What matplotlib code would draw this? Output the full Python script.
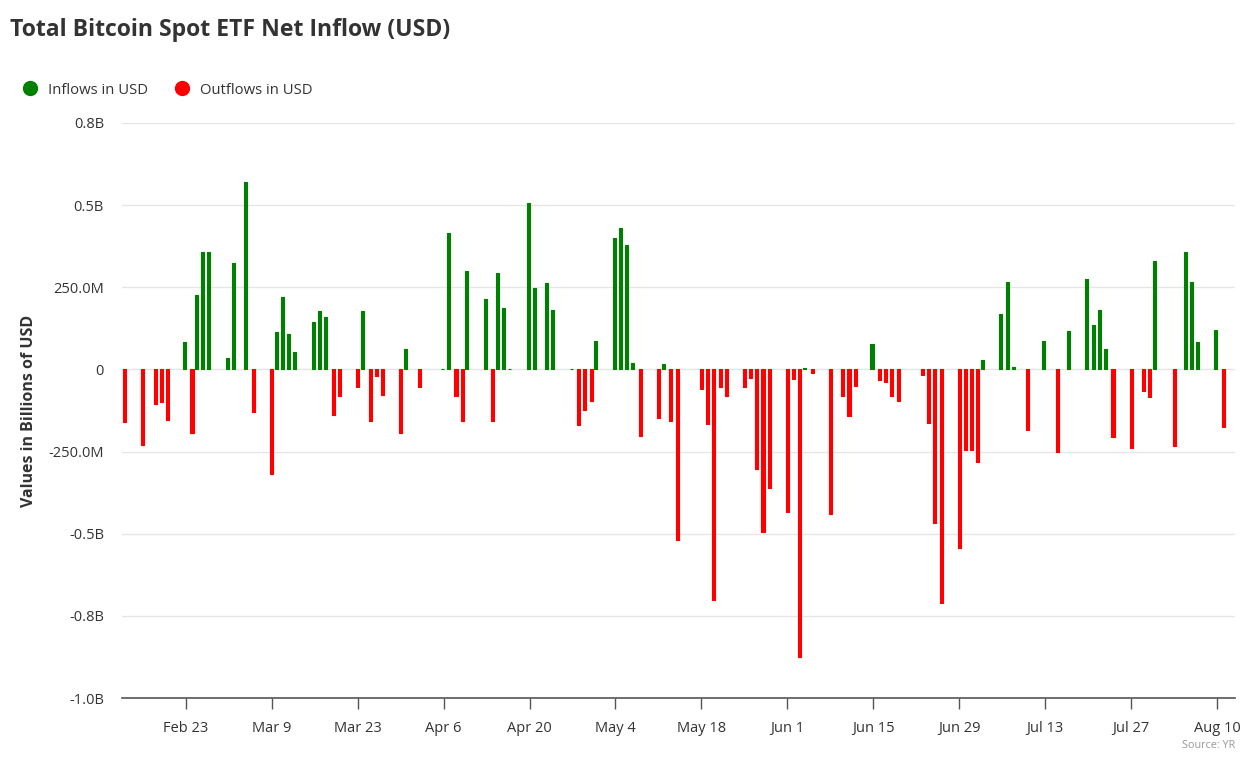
import numpy as np
import pandas as pd
import matplotlib
matplotlib.use('Agg')
import matplotlib.pyplot as plt
import matplotlib.dates as mdates
from matplotlib.lines import Line2D

plt.rcParams['font.family'] = ['Open Sans', 'DejaVu Sans']

# 영업일 기준 일별 순유입 (백만 달러), 주 단위로 묶음 (월~금)
first_day = '2026-02-13'
last_day = '2026-08-11'
weeks = [
    [-160],
    [-229, 0, -104, -99, -153],
    [84, -193, 226, 357, 357],
    [34, 323, 0, 570, -130],
    [-318, 114, 221, 107, 54],
    [145, 179, 161, -138, -81],
    [-55, 179, -157, -20, -77],
    [-195, 62, 0, -55, 0],
    [2, 414, -81, -157, 301],
    [213, -157, 292, 186, 2],
    [505, 247, 0, 262, 182],
    [2, -168, -122, -96, 88],
    [399, 429, 379, 19, -202],
    [-149, 15, -156, -520, 0],
    [-61, -166, -703, -54, -80],
    [-53, -26, -304, -495, -361],
    [-433, -30, -874, 3, -10],
    [-441, 0, -80, -141, -50],
    [77, -33, -38, -81, -97],
    [0, -17, -162, -466, -710],
    [-543, -246, -246, -283, 30],
    [168, 265, 7, 0, -185],
    [87, 0, -251, 0, 118],
    [276, 134, 182, 62, -205],
    [-240, 0, -65, -84, 330],
    [-232, 0, 357, 266, 84],
    [121, -175],
]
flows = np.array([v for w in weeks for v in w])
days = pd.bdate_range(first_day, last_day)

y_ticks = [750, 500, 250, 0, -250, -500, -750, -1000]
y_labels = ['0.8B', '0.5B', '250.0M', '0', '-250.0M', '-0.5B', '-0.8B', '-1.0B']
x_ticks = pd.date_range('2026-02-23', '2026-08-10', freq='14D')

x = mdates.date2num(days)
pos = flows > 0
neg = flows < 0

W, H = 1255, 767
fig = plt.figure(figsize=(W / 100, H / 100), dpi=100)
ax = fig.add_axes([122 / W, (H - 698) / H, (1235 - 122) / W, (698 - 123) / H])

# 둥근 모서리 느낌을 위해 같은 색 테두리 + round join
ax.bar(x[pos] - 0.22, flows[pos], width=0.5, color='#008000', edgecolor='#008000',
       linewidth=0.8, joinstyle='round', zorder=3)
ax.bar(x[neg] + 0.03, flows[neg], width=0.5, color='#ff0000', edgecolor='#ff0000',
       linewidth=0.8, joinstyle='round', zorder=3)

x0 = mdates.date2num(x_ticks[0])
ax.set_xlim(x0 - 10.37, x0 + 170.9)
ax.set_ylim(-1000, 750)

ax.set_yticks(y_ticks)
ax.set_yticklabels(y_labels)
ax.set_xticks(mdates.date2num(x_ticks))
ax.set_xticklabels([d.strftime('%b ') + str(d.day) for d in x_ticks])

ax.grid(axis='y', color='#e6e6e6', linewidth=1, zorder=0)
for s in ['left', 'right', 'top']:
    ax.spines[s].set_visible(False)
ax.spines['bottom'].set_color('#555555')
ax.spines['bottom'].set_linewidth(1.2)
ax.tick_params(axis='y', length=0, pad=13, labelsize=10.5, labelcolor='#333333')
ax.tick_params(axis='x', length=8, width=1, color='#555555', pad=8.5,
               labelsize=10.5, labelcolor='#333333')

ax.set_ylabel('Values in Billions of USD', fontsize=11.5, fontweight='bold',
              color='#333333')
ax.yaxis.set_label_coords(-(122 - 37) / (1235 - 122), 0.5)

fig.text(10 / W, 1 - 30 / H, 'Total Bitcoin Spot ETF Net Inflow (USD)',
         fontsize=16.6, fontweight='bold', color='#333333', va='center')

handles = [
    Line2D([], [], marker='o', linestyle='', markersize=10, color='#008000'),
    Line2D([], [], marker='o', linestyle='', markersize=10, color='#ff0000'),
]
fig.legend(handles, ['Inflows in USD', 'Outflows in USD'], loc='center left',
           bbox_to_anchor=(2 / W, 1 - 90 / H), ncol=2, frameon=False,
           fontsize=10.7, handletextpad=0.2, columnspacing=1.3,
           labelcolor='#333333')

fig.text(1235 / W, 1 - 746 / H, 'Source: YR', fontsize=7.8, color='#999999',
         ha='right', va='center')

fig.savefig('out.png', dpi=100)
